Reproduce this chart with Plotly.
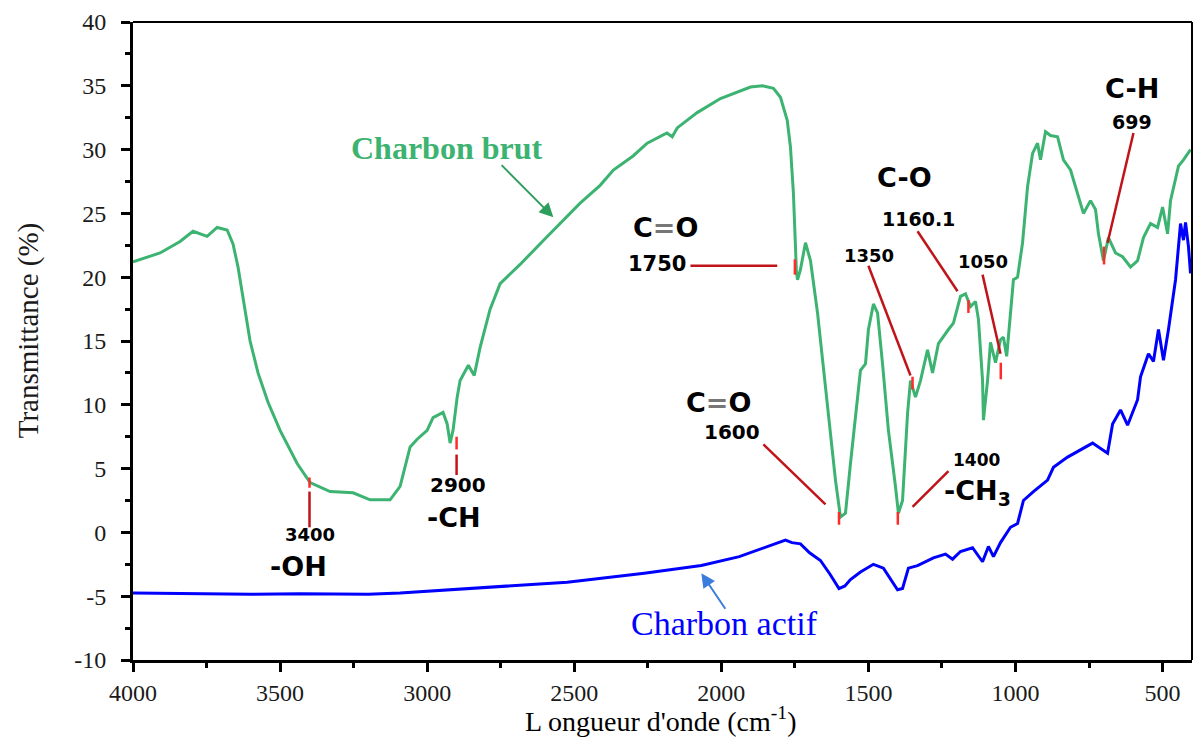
import plotly.graph_objects as go

# FTIR spectra: raw coal vs activated carbon
brut_wn = [4000, 3908, 3840, 3796, 3748, 3714, 3680, 3660, 3643, 3629, 3602, 3575, 3541,
           3500, 3442, 3398, 3330, 3252, 3194, 3126, 3092, 3058, 3034, 3000, 2980, 2946,
           2932, 2922, 2912, 2898, 2888, 2860, 2840, 2820, 2786, 2752, 2684, 2600, 2514,
           2480, 2412, 2385, 2367, 2300, 2252, 2185, 2167, 2150, 2082, 2003, 1950, 1901,
           1860, 1823, 1799, 1776, 1765, 1755, 1748, 1745, 1741, 1731, 1714, 1697, 1673,
           1653, 1629, 1612, 1595, 1578, 1561, 1537, 1527, 1510, 1500, 1483, 1469, 1452,
           1432, 1408, 1398, 1384, 1367, 1357, 1340, 1323, 1299, 1282, 1262, 1228, 1211,
           1187, 1170, 1153, 1136, 1126, 1112, 1109, 1095, 1085, 1068, 1051, 1041, 1030,
           1007, 993, 976, 959, 942, 925, 915, 898, 881, 857, 837, 813, 789, 769, 745,
           728, 718, 701, 684, 660, 636, 609, 585, 565, 541, 517, 500, 483, 473, 446,
           429, 405]
brut_t = [21.2, 21.9, 22.8, 23.6, 23.2, 23.9, 23.7, 22.6, 20.8, 18.7, 15.0, 12.5, 10.2,
          8.0, 5.4, 3.9, 3.2, 3.1, 2.55, 2.55, 3.6, 6.7, 7.3, 8.0, 9.0, 9.4,
          8.5, 7.0, 8.0, 10.6, 11.9, 13.1, 12.3, 14.5, 17.5, 19.5, 21.0, 23.0, 25.0,
          25.8, 27.2, 27.9, 28.4, 29.5, 30.5, 31.3, 31.0, 31.7, 32.9, 34.0, 34.5, 34.9,
          35.0, 34.8, 34.1, 32.3, 30.2, 26.6, 22.4, 20.5, 19.8, 20.6, 22.7, 21.3, 17.2,
          13.0, 7.8, 4.1, 1.2, 1.5, 5.4, 10.6, 12.7, 13.2, 15.9, 17.9, 17.2, 13.2,
          8.0, 3.6, 1.5, 2.5, 9.3, 11.9, 10.6, 11.9, 14.3, 12.5, 14.8, 15.9, 16.4,
          18.5, 18.7, 17.7, 18.1, 16.7, 11.9, 8.8, 11.9, 14.9, 13.3, 15.1, 15.3, 13.8,
          19.8, 20.0, 22.7, 27.1, 29.7, 30.5, 29.2, 31.4, 31.1, 31.0, 29.2, 28.4, 26.6, 25.0, 26.0,
          25.3, 23.4, 21.3, 23.1, 21.9, 21.6, 20.8, 21.3, 23.1, 24.2, 23.9, 25.5, 23.4, 26.0, 28.7,
          29.2, 30.0]

actif_wn = [4000, 3800, 3600, 3432, 3200, 3092, 2782, 2524, 2262, 2068, 1939, 1867, 1820,
            1782, 1760, 1731, 1700, 1663, 1630, 1600, 1580, 1561, 1527, 1483, 1449, 1425,
            1401, 1384, 1364, 1333, 1279, 1238, 1214, 1187, 1146, 1112, 1092, 1075, 1051,
            1017, 993, 973, 939, 891, 871, 823, 779, 738, 687, 670, 643, 619, 585, 575,
            548, 531, 514, 497, 480, 456, 439, 429, 422, 412, 405]
actif_t = [-4.75, -4.8, -4.85, -4.8, -4.85, -4.75, -4.3, -3.9, -3.2, -2.6, -1.9, -1.3, -0.9,
           -0.6, -0.8, -0.9, -1.6, -2.2, -3.3, -4.4, -4.2, -3.7, -3.1, -2.5, -2.8, -3.7,
           -4.5, -4.4, -2.8, -2.6, -2.0, -1.7, -2.1, -1.5, -1.2, -2.3, -1.1, -1.9, -0.8,
           0.4, 0.7, 2.5, 3.2, 4.1, 5.1, 5.9, 6.5, 7.0, 6.2, 8.5, 9.6, 8.4, 10.4, 12.2,
           14.0, 13.4, 15.9, 13.5, 15.9, 19.8, 24.2, 22.9, 24.3, 22.4, 20.3]

x_ticks = [4000, 3500, 3000, 2500, 2000, 1500, 1000, 500]
x_ticktext = ["4000", "3500", "3000", "2500", "2000", "1500", "1000", "500"]
y_ticks = [-10, -5, 0, 5, 10, 15, 20, 25, 30, 35, 40]
y_ticktext = ["-10", "-5", "0", "5", "10", "15", "20", "25", "30", "35", "40"]

GREEN = "#3cb371"
BLUE = "#0000ff"
DARKRED = "#c0141a"
RED = "#ff2a2a"
SANS = "DejaVu Sans"
SERIF = "Liberation Serif"

fig = go.Figure()
fig.add_trace(go.Scatter(x=brut_wn, y=brut_t, mode="lines",
                         line=dict(color=GREEN, width=3), name="Charbon brut"))
fig.add_trace(go.Scatter(x=actif_wn, y=actif_t, mode="lines",
                         line=dict(color=BLUE, width=3), name="Charbon actif"))

shapes = []


def seg(x0, y0, x1, y1, color, width=2.5):
    shapes.append(dict(type="line", xref="x", yref="y", x0=x0, y0=y0, x1=x1, y1=y1,
                       line=dict(color=color, width=width)))


# leader lines from labels to the bands
seg(2105, 20.9, 1810, 20.9, DARKRED)
seg(1750, 21.4, 1750, 20.2, RED)
seg(1500, 20.9, 1357, 12.3, DARKRED)
seg(1350, 12.2, 1350, 11.2, RED)
seg(1333, 23.6, 1197, 18.9, DARKRED)
seg(1160, 18.2, 1160, 17.2, RED)
seg(1112, 20.2, 1051, 14.0, DARKRED)
seg(1050, 13.3, 1050, 12.0, RED)
seg(599, 31.3, 687, 22.7, DARKRED)
seg(699, 22.4, 699, 21.0, RED)
seg(1857, 6.9, 1646, 2.2, DARKRED)
seg(1600, 1.6, 1600, 0.6, RED)
seg(1228, 4.8, 1350, 2.0, DARKRED)
seg(1400, 1.6, 1400, 0.6, RED)
seg(2900, 7.5, 2900, 6.5, RED)
seg(2900, 6.1, 2900, 4.5, DARKRED)
seg(3400, 4.3, 3400, 3.5, RED)
seg(3400, 3.2, 3400, 0.4, DARKRED)

# top and right frame
shapes.append(dict(type="line", xref="paper", yref="paper", x0=0, y0=1, x1=1, y1=1,
                   line=dict(color="black", width=2)))
shapes.append(dict(type="line", xref="paper", yref="paper", x0=1, y0=0, x1=1, y1=1,
                   line=dict(color="black", width=2)))

annotations = []


def label(x, y, text, size, bold=True, family=SANS, color="black"):
    t = f"<b>{text}</b>" if bold else text
    annotations.append(dict(x=x, y=y, xref="x", yref="y", text=t, showarrow=False,
                            font=dict(family=family, size=size, color=color),
                            xanchor="center", yanchor="middle"))


DB = "C<span style='color:#777'>=</span>O"
label(2190, 23.9, DB, 27)
label(2218, 21.0, "1750", 21)
label(1497, 21.7, "1350", 18)
label(1378, 27.8, "C-O", 27)
label(1330, 24.6, "1160.1", 19)
label(1112, 21.2, "1050", 18)
label(605, 34.8, "C-H", 27)
label(605, 32.2, "699", 19)
label(2010, 10.2, DB, 27)
label(1963, 7.9, "1600", 20)
label(1133, 5.7, "1400", 17)
label(1129, 3.1, "-CH<sub>3</sub>", 27)
label(2895, 3.7, "2900", 20)
label(2908, 1.2, "-CH", 27)
label(3398, -0.2, "3400", 18)
label(3439, -2.7, "-OH", 27)
label(2932, 30.1, "Charbon brut", 32, bold=True, family=SERIF, color=GREEN)
label(1990, -7.1, "Charbon actif", 34, bold=False, family=SERIF, color=BLUE)

# pointer arrows for the two series names
annotations.append(dict(x=2571, y=24.7, ax=2752, ay=28.9, xref="x", yref="y",
                        axref="x", ayref="y", text="", showarrow=True,
                        arrowhead=2, arrowsize=1.4, arrowwidth=2, arrowcolor="#2e9e5e"))
annotations.append(dict(x=2068, y=-3.2, ax=1983, ay=-6.1, xref="x", yref="y",
                        axref="x", ayref="y", text="", showarrow=True,
                        arrowhead=2, arrowsize=1.4, arrowwidth=2, arrowcolor="#3b7ddd"))

# axis titles
annotations.append(dict(x=0.498, y=-0.1235, xref="paper", yref="paper",
                        text="L ongueur d'onde (cm<sup>-1</sup>)", showarrow=False,
                        font=dict(family=SERIF, size=28, color="black"),
                        xanchor="center", yanchor="bottom"))
annotations.append(dict(x=-0.099, y=0.517, xref="paper", yref="paper",
                        text="Transmittance (%)", showarrow=False, textangle=-90,
                        font=dict(family=SERIF, size=29, color="#1a1a1a"),
                        xanchor="center", yanchor="middle"))

axis_common = dict(showline=True, linecolor="black", linewidth=3, ticks="outside",
                   ticklen=9, tickwidth=2.5, tickcolor="black", showgrid=False,
                   zeroline=False, tickfont=dict(family=SERIF, size=24, color="#1a1a1a"))

fig.update_layout(
    width=1195, height=738,
    margin=dict(l=133, r=3, t=22, b=78),
    paper_bgcolor="white", plot_bgcolor="white",
    showlegend=False,
    shapes=shapes, annotations=annotations,
    xaxis=dict(range=[4000, 400], tickvals=x_ticks, ticktext=x_ticktext,
               ticklabelstandoff=0,
               minor=dict(dtick=250, tick0=0, ticks="outside", ticklen=5, tickwidth=2.5,
                          tickcolor="black"),
               **axis_common),
    yaxis=dict(range=[-10, 40], tickvals=y_ticks, ticktext=y_ticktext,
               ticklabelstandoff=10,
               minor=dict(dtick=2.5, tick0=0, ticks="outside", ticklen=5, tickwidth=2.5,
                          tickcolor="black"),
               **axis_common),
)

fig.write_html("out.html")
